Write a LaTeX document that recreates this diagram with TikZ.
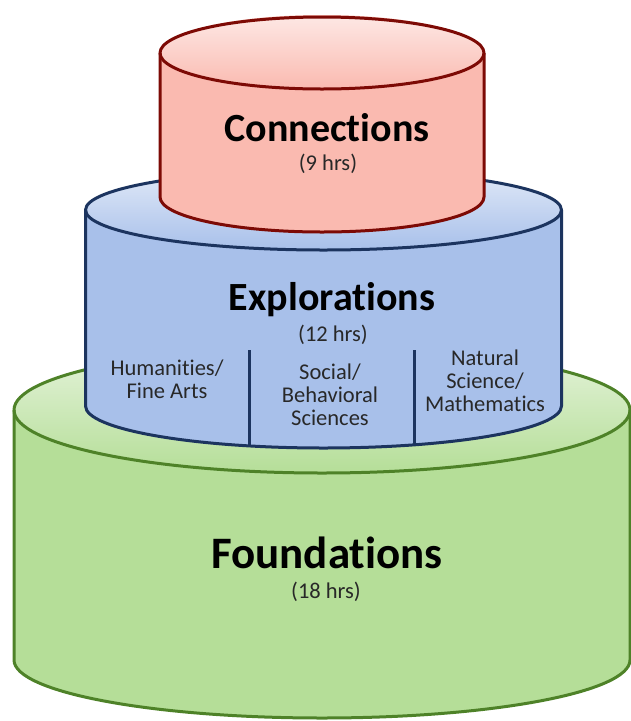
\documentclass[tikz,border=0pt]{standalone}
\usepackage{fontspec}
\setmainfont[Ligatures=NoCommon]{Carlito}
\definecolor{pinkfill}{RGB}{250,186,176}
\definecolor{pinkline}{RGB}{125,10,5}
\definecolor{bluefill}{RGB}{168,192,234}
\definecolor{blueline}{RGB}{28,52,95}
\definecolor{greenfill}{RGB}{181,222,152}
\definecolor{greenline}{RGB}{78,130,40}
\definecolor{hrsgray}{RGB}{40,40,40}
\begin{document}
\begin{tikzpicture}[x=1pt,y=1pt,
  title/.style={font=\fontsize{40}{42}\selectfont\bfseries, inner sep=0pt, anchor=base},
  hrs/.style={font=\fontsize{22.5}{24}\selectfont, text=hrsgray, inner sep=0pt, anchor=base},
  sub/.style={font=\fontsize{22.5}{23}\selectfont, text=hrsgray, align=center, inner sep=0pt},
  body/.style={line width=3pt, line join=round}
]
\useasboundingbox (0,0) rectangle (631,-721);
% ---------- Foundations (green) ----------
\fill[greenfill] (14,-410) -- (14,-660) arc[start angle=180,end angle=360,x radius=308,y radius=58] -- (630,-410) arc[start angle=0,end angle=180,x radius=308,y radius=63] -- cycle;
\shade[top color=greenfill!35!white, bottom color=greenfill] (322,-410) ellipse[x radius=308,y radius=63];
\draw[body, greenline] (14,-410) -- (14,-660) arc[start angle=180,end angle=360,x radius=308,y radius=58] -- (630,-410);
\draw[body, greenline] (322,-410) ellipse[x radius=308,y radius=63];
% ---------- Explorations (blue) ----------
\fill[bluefill] (85.5,-210) -- (85.5,-406) arc[start angle=180,end angle=360,x radius=238,y radius=42] -- (561.5,-210) arc[start angle=0,end angle=180,x radius=238,y radius=40] -- cycle;
\shade[top color=bluefill!35!white, bottom color=bluefill] (323.5,-210) ellipse[x radius=238,y radius=40];
\draw[body, blueline] (85.5,-210) -- (85.5,-406) arc[start angle=180,end angle=360,x radius=238,y radius=42] -- (561.5,-210);
\draw[body, blueline] (323.5,-210) ellipse[x radius=238,y radius=40];
\coordinate (d1t) at (249,-350);
\coordinate (d1b) at (249,-446);
\coordinate (d2t) at (414,-350);
\coordinate (d2b) at (414,-445);
\draw[line width=3pt, blueline] (d1t) -- (d1b);
\draw[line width=3pt, blueline] (d2t) -- (d2b);
% ---------- Connections (pink) ----------
\fill[pinkfill] (160,-53) -- (160,-197) arc[start angle=180,end angle=360,x radius=162,y radius=35] -- (484,-53) arc[start angle=0,end angle=180,x radius=162,y radius=38] -- cycle;
\shade[top color=pinkfill!35!white, bottom color=pinkfill] (322,-53) ellipse[x radius=162,y radius=36];
\draw[body, pinkline] (160,-53) -- (160,-197) arc[start angle=180,end angle=360,x radius=162,y radius=35] -- (484,-53);
\draw[body, pinkline] (322,-53) ellipse[x radius=162,y radius=36];
% ---------- Texts ----------
\node[title] (conn) at (327,-141) {Connections};
\node[hrs] (conn-h) at (328,-170) {(9 hrs)};
\node[title] (expl) at (332,-310) {Explorations};
\node[hrs] (expl-h) at (333,-341) {(12 hrs)};
\node[sub] (hum) at (167,-379) {Humanities/\\Fine Arts};
\node[sub] (soc) at (330,-395) {Social/\\Behavioral\\Sciences};
\node[sub] (nat) at (485,-381) {Natural\\Science/\\Mathematics};
\node[title, font=\fontsize{45}{47}\selectfont\bfseries] (found) at (327,-568) {Foundations};
\node[hrs] (found-h) at (326,-598) {(18 hrs)};
\end{tikzpicture}
\end{document}
